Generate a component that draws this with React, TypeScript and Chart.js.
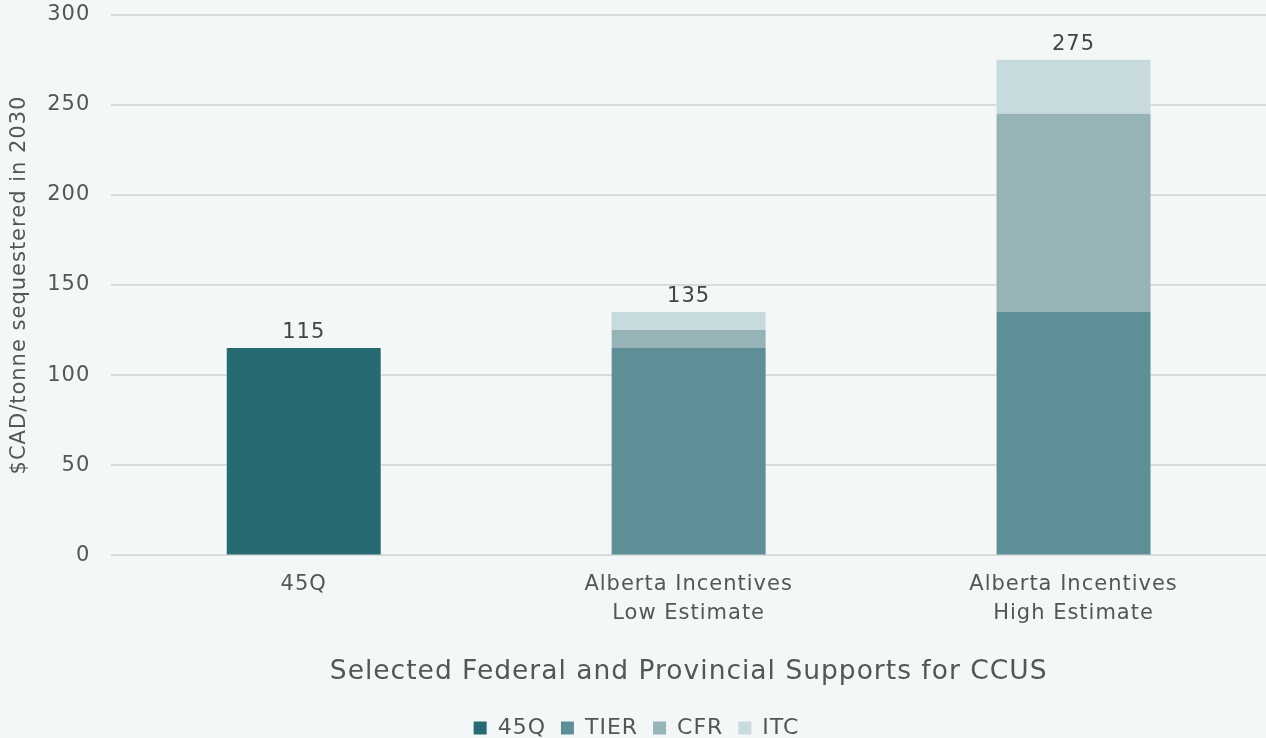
import React, { useEffect, useRef } from "react";
import { Chart, registerables } from "chart.js";

Chart.register(...registerables);

const categories: (string | string[])[] = [
  "45Q",
  ["Alberta Incentives", "Low Estimate"],
  ["Alberta Incentives", "High Estimate"],
];
const seriesNames = ["45Q", "TIER", "CFR", "ITC"];
const q45 = [115, 0, 0];
const tier = [0, 115, 135];
const cfr = [0, 10, 110];
const itc = [0, 10, 30];
const totals = [115, 135, 275];
const colors = ["#276b72", "#5e8f96", "#96b4b8", "#c7dadd"];
const yTicks = [0, 50, 100, 150, 200, 250, 300];

const FONT = "'DejaVu Sans', 'Open Sans', sans-serif";
const TEXT = "#555555";

const spacingPlugin = {
  id: "spacing",
  beforeInit(chart: any) {
    chart.ctx.letterSpacing = "1px";
  },
  beforeUpdate(chart: any) {
    chart.ctx.letterSpacing = "1px";
  },
  beforeDraw(chart: any) {
    chart.ctx.letterSpacing = "1px";
  },
};

const totalsPlugin = {
  id: "totals",
  afterDatasetsDraw(chart: any) {
    const { ctx, scales } = chart;
    ctx.save();
    ctx.fillStyle = "#444444";
    ctx.font = `21px ${FONT}`;
    ctx.textAlign = "center";
    ctx.textBaseline = "bottom";
    totals.forEach((t, i) => {
      const x = scales.x.getPixelForValue(i);
      const y = scales.y.getPixelForValue(t);
      ctx.fillText(String(t), x, y - 5);
    });
    ctx.restore();
  },
};

const bgPlugin = {
  id: "bg",
  beforeDraw(chart: any) {
    const { ctx, width, height } = chart;
    ctx.save();
    ctx.fillStyle = "#f3f7f8";
    ctx.fillRect(0, 0, width, height);
    ctx.restore();
  },
};

export default function App() {
  const ref = useRef<HTMLCanvasElement | null>(null);
  useEffect(() => {
    if (!ref.current) return;
    const data = [q45, tier, cfr, itc];
    const chart = new Chart(ref.current, {
      type: "bar",
      data: {
        labels: categories as any,
        datasets: seriesNames.map((name, i) => ({
          label: name,
          data: data[i],
          backgroundColor: colors[i],
          borderWidth: 0,
          barPercentage: 0.4,
          categoryPercentage: 1,
        })),
      },
      options: {
        animation: false,
        responsive: false,
        maintainAspectRatio: false,
        layout: { padding: { left: 7, right: 0, top: 0, bottom: 0 } },
        plugins: {
          legend: {
            position: "bottom",
            labels: {
              boxWidth: 13,
              boxHeight: 13,
              padding: 15,
              color: TEXT,
              font: { family: FONT, size: 22 },
            },
          },
          tooltip: { enabled: false },
        },
        scales: {
          x: {
            stacked: true,
            grid: { display: false },
            border: { display: false },
            ticks: {
              color: TEXT,
              font: { family: FONT, size: 21, lineHeight: 1.4 },
              padding: 6,
              maxRotation: 0,
            },
            title: {
              display: true,
              text: "Selected Federal and Provincial Supports for CCUS",
              color: TEXT,
              font: { family: FONT, size: 26.5 },
              padding: { top: 22, bottom: 14 },
            },
          },
          y: {
            stacked: true,
            min: 0,
            max: 300,
            afterBuildTicks(scale: any) {
              scale.ticks = yTicks.map((v) => ({ value: v }));
            },
            grid: { color: "#d9dcdd", lineWidth: 2, drawTicks: false },
            border: { display: false },
            ticks: {
              color: TEXT,
              font: { family: FONT, size: 21 },
              padding: 21,
            },
            title: {
              display: true,
              text: "$CAD/tonne sequestered in 2030",
              color: TEXT,
              font: { family: FONT, size: 21 },
              padding: { top: 0, bottom: -6 },
            },
          },
        },
      },
      plugins: [spacingPlugin, bgPlugin, totalsPlugin],
    });
    return () => chart.destroy();
  }, []);
  return (
    <div style={{ position: "fixed", left: 0, top: 0, width: 1266, height: 738, overflow: "hidden", background: "#f3f7f8" }}>
      <canvas
        ref={ref}
        width={1266}
        height={768}
        style={{ position: "absolute", left: 0, top: -19, width: 1266, height: 768, display: "block" }}
      />
    </div>
  );
}
